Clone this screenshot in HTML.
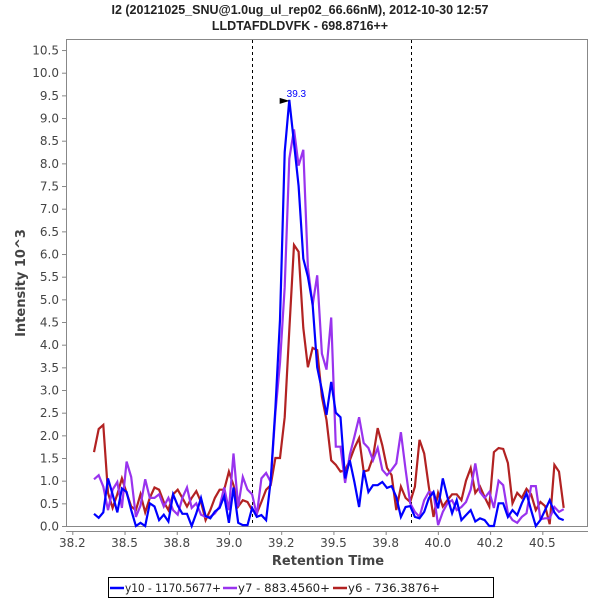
<!DOCTYPE html>
<html><head><meta charset="utf-8"><style>
body{margin:0;background:#fff;}
svg{display:block;font-family:"Liberation Sans","DejaVu Sans",sans-serif;}
</style></head><body>
<svg id="chart" width="600" height="600" viewBox="0 0 600 600">
<rect x="0" y="0" width="600" height="600" fill="#fff"/>
<text x="300" y="14" text-anchor="middle" font-size="12.5" font-weight="bold" fill="#222">I2 (20121025_SNU@1.0ug_ul_rep02_66.66nM), 2012-10-30 12:57</text>
<text x="300" y="30" text-anchor="middle" font-size="12.5" font-weight="bold" fill="#222">LLDTAFDLDVFK - 698.8716++</text>
<rect x="66.5" y="39.5" width="521" height="487" fill="#fff" stroke="#888"/>
<g id="yaxis"></g>
<g id="xaxis"></g>
<g id="series"></g>
<text x="0" y="0" transform="translate(25,283) rotate(-90)" text-anchor="middle" font-size="13" font-weight="bold" fill="#444" font-family="DejaVu Sans, sans-serif">Intensity 10^3</text>
<text x="328" y="565" text-anchor="middle" font-size="13" font-weight="bold" fill="#444" font-family="DejaVu Sans, sans-serif">Retention Time</text>
<g font-family="DejaVu Sans, sans-serif">
<rect x="108.5" y="577.5" width="385" height="20" fill="#fff" stroke="#000"/>
<g><line x1="110" y1="588" x2="124" y2="588" stroke="#0000ff" stroke-width="2.5"/><text x="125" y="592" font-size="11.5" textLength="96" lengthAdjust="spacingAndGlyphs" fill="#222">y10 - 1170.5677+</text></g>
<g><line x1="223" y1="588" x2="237" y2="588" stroke="#9933ee" stroke-width="2.5"/><text x="238" y="592" font-size="11.5" textLength="92" lengthAdjust="spacingAndGlyphs" fill="#222">y7 - 883.4560+</text></g>
<g><line x1="333" y1="588" x2="347" y2="588" stroke="#b22222" stroke-width="2.5"/><text x="348" y="592" font-size="11.5" textLength="92" lengthAdjust="spacingAndGlyphs" fill="#222">y6 - 736.3876+</text></g>
</g>
</svg>
<script>
const xTicks=[38.25,38.5,38.75,39.0,39.25,39.5,39.75,40.0,40.25,40.5];
const xTickLabels=["38.2","38.5","38.8","39.0","39.2","39.5","39.8","40.0","40.2","40.5"];
const yTicks=[0,0.5,1,1.5,2,2.5,3,3.5,4,4.5,5,5.5,6,6.5,7,7.5,8,8.5,9,9.5,10,10.5];
const t0=38.354, dt=0.02226;
const y10=[0.27,0.18,0.3,1.05,0.7,0.3,0.83,0.75,0.35,0,0.07,0,0.5,0.43,0.13,0.25,0.1,0.7,0.45,0.27,0.27,0,0.28,0.62,0.22,0.17,0.32,0.4,0.66,0.07,0.85,0.07,0.02,0.02,0.4,
0.2,0.24,0.13,1.0,2.6,4.55,8.25,9.4,8.45,7.5,5.9,5.5,4.9,3.5,3.0,2.45,3.18,2.5,2.4,1.05,1.45,0.97,0.42,1.23,0.75,0.9,0.9,
0.97,0.84,0.88,0.64,0.2,0.42,0.44,0.2,0.17,0.31,0.61,0.75,0.39,1.05,0.64,
0.28,0.57,0.13,0.24,0.35,0.1,0.17,0.13,0,0,0.5,0.5,0.2,0.35,0.24,0.5,0.72,0.35,0,0.13,0.35,0.57,0.3,0.17,0.13];
const y7=[1.03,1.12,0.87,0.35,0.8,0.97,0.4,1.42,1.08,0.2,0.45,1.03,0.62,0.62,0.7,0.43,0.62,0.35,0.25,0.62,0.85,0.4,0.5,0.25,0.2,0.2,0.28,0.43,0.85,0.35,1.6,0.43,1.08,0.8,0.7,
0.24,1.05,1.17,0.97,2.5,3.6,5.27,8.1,8.75,7.95,8.3,5.7,4.87,5.53,3.8,3.45,4.6,1.75,1.75,0.95,1.57,1.97,2.4,1.83,1.72,1.45,1.72,
1.24,1.12,1.24,1.38,2.07,1.24,0.5,0.31,0.2,0.57,0.75,0.73,0.02,0.31,0.5,
0.57,0.35,0.42,0.53,0.8,1.38,0.75,0.62,0.75,0.4,1.0,0.9,0.28,0.13,0.07,0.2,0.28,0.88,0.88,0.15,0.17,0.17,0.42,0.31,0.37];
const y6=[1.63,2.14,2.23,0.73,0.4,0.7,1.05,0.73,0.43,0.35,0.7,0.3,0.62,0.85,0.8,0.53,0.35,0.7,0.8,0.62,0.43,0.62,0.77,0.53,0.13,0.35,0.62,0.8,0.8,1.2,0.9,0.43,0.57,0.53,0.35,
0.28,0.53,0.8,0.9,1.5,1.5,2.4,4.32,6.2,6.05,4.37,3.5,3.93,3.88,2.85,2.34,1.45,1.35,1.2,1.23,1.45,1.72,1.94,1.2,1.23,1.52,2.16,
1.78,1.28,1.12,0.35,0.87,0.62,0.53,0.87,1.9,1.6,0.87,0.2,0.73,0.43,0.57,
0.7,0.7,0.57,1.0,1.28,0.73,0.87,0.64,0.43,1.63,1.72,1.7,1.39,0.5,0.73,0.62,0.82,0.7,0.35,0.53,0.44,0.04,1.35,1.2,0.4];
const markers=[39.11,39.87];
const peakRT=39.3, peakVal=9.4, peakLabel="39.3";

const NS="http://www.w3.org/2000/svg";
const X=v=>72.3+(v-38.25)*208.9;
const Y=v=>526-v*45.33;
function mk(tag,attrs,parent){const e=document.createElementNS(NS,tag);for(const k in attrs)e.setAttribute(k,attrs[k]);parent.appendChild(e);return e;}
const ya=document.getElementById('yaxis'), xa=document.getElementById('xaxis'), sg=document.getElementById('series');
yTicks.forEach(v=>{
  const l=mk('line',{x1:62,x2:66,y1:Y(v)+0.5,y2:Y(v)+0.5,stroke:'#888'},ya);
  
  
  const t=mk('text',{x:59,y:Y(v)+4.5,'text-anchor':'end','font-size':'12','font-family':'DejaVu Sans, sans-serif',fill:'#444'},ya);
  t.textContent=v.toFixed(1);
  
  
});
const al=mk('line',{x1:66,x2:588,y1:531.5,y2:531.5,stroke:'#888'},xa);


xTicks.forEach((v,i)=>{
  const l=mk('line',{x1:X(v)+0.5,x2:X(v)+0.5,y1:532,y2:535,stroke:'#888'},xa);
  
  
  const t=mk('text',{x:X(v),y:547,'text-anchor':'middle','font-size':'12','font-family':'DejaVu Sans, sans-serif',fill:'#444'},xa);
  t.textContent=xTickLabels[i];
  
  
});
markers.forEach(m=>{
  const l=mk('line',{x1:Math.round(X(m))+0.5,x2:Math.round(X(m))+0.5,y1:40,y2:526,stroke:'#000','stroke-dasharray':'3,3'},sg);
  
  
});
function drawSeries(vals,color,name){
  const pts=vals.map((v,i)=>X(t0+i*dt).toFixed(1)+','+Y(v).toFixed(1)).join(' ');
  const p=mk('polyline',{points:pts,fill:'none',stroke:color,'stroke-width':2.2,'stroke-linejoin':'miter'},sg);
  
  
}
drawSeries(y6,'#b22222','series-y6');
drawSeries(y7,'#9933ee','series-y7');
drawSeries(y10,'#0000ff','series-y10');
const px=X(peakRT), py=Y(peakVal);
const ar=mk('polygon',{points:`${px-12},${py-2} ${px-2},${py+1} ${px-12},${py+4}`,fill:'#000'},sg);


const pl=mk('text',{x:px-5,y:py-3,'font-size':'10',fill:'#0000ff'},sg);
pl.textContent=peakLabel;


</script>
</body></html>
